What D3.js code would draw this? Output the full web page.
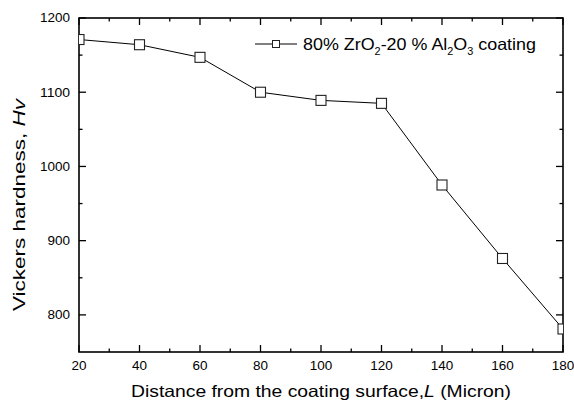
<!DOCTYPE html>
<html><head><meta charset="utf-8">
<script src="https://cdn.jsdelivr.net/npm/d3@7"></script>
<style>body{margin:0;background:#fff}svg{display:block;font-family:Arial,"Liberation Sans",sans-serif}</style>
</head><body><svg id="c" width="574" height="403"></svg>
<script>
const distances = [20, 40, 60, 80, 100, 120, 140, 160, 180];
const hardness = [1171, 1164, 1147, 1100, 1089, 1085, 975, 876, 781];
const xTicks = [20, 40, 60, 80, 100, 120, 140, 160, 180];
const yTicks = [800, 900, 1000, 1100, 1200];

const svg = d3.select("#c");
const L = 79, R = 563, T = 18, B = 352;
const x = d3.scaleLinear().domain([20, 180]).range([L, R]);
const y = d3.scaleLinear().domain([750, 1200]).range([B, T]);

const xMinor = d3.range(30, 180, 20);
const yMinor = [850, 950, 1050, 1150];

svg.append("clipPath").attr("id", "clip").append("rect")
  .attr("x", L).attr("y", T).attr("width", R - L).attr("height", B - T);

const axes = svg.append("g");
function tickLines(g, vals, len, side) {
  vals.forEach(v => {
    if (side === "bottom") g.append("line").attr("x1", x(v)).attr("x2", x(v)).attr("y1", B).attr("y2", B - len);
    if (side === "top") g.append("line").attr("x1", x(v)).attr("x2", x(v)).attr("y1", T).attr("y2", T + len);
    if (side === "left") g.append("line").attr("y1", y(v)).attr("y2", y(v)).attr("x1", L).attr("x2", L + len);
    if (side === "right") g.append("line").attr("y1", y(v)).attr("y2", y(v)).attr("x1", R).attr("x2", R - len);
  });
}
const tg = axes.append("g").attr("stroke", "#000").attr("stroke-width", 1.3);
tickLines(tg, xTicks, 7, "bottom"); tickLines(tg, xMinor, 3.5, "bottom");
tickLines(tg, xTicks, 7, "top"); tickLines(tg, xMinor, 3.5, "top");
tickLines(tg, yTicks, 7, "left"); tickLines(tg, yMinor, 3.5, "left");
tickLines(tg, yTicks, 7, "right"); tickLines(tg, yMinor, 3.5, "right");

axes.append("rect").attr("x", L).attr("y", T).attr("width", R - L).attr("height", B - T)
  .attr("fill", "none").attr("stroke", "#000").attr("stroke-width", 1.6);

// tick labels (glyphs slightly stretched horizontally as in reference)
svg.append("g").selectAll("text").data(xTicks).join("text")
  .attr("x", d => x(d)).attr("y", 370).attr("text-anchor", "middle")
  .attr("font-size", 12).attr("fill", "#000")
  .attr("textLength", d => String(d).length * 7.5).attr("lengthAdjust", "spacingAndGlyphs")
  .text(d => d);
svg.append("g").selectAll("text").data(yTicks).join("text")
  .attr("x", 70).attr("y", d => y(d) + 4.3).attr("text-anchor", "end")
  .attr("font-size", 12).attr("fill", "#000")
  .attr("textLength", d => String(d).length * 7.5).attr("lengthAdjust", "spacingAndGlyphs")
  .text(d => d);

// axis titles
const xt = svg.append("text").attr("x", (L + R) / 2).attr("y", 397).attr("text-anchor", "middle")
  .attr("font-size", 16.5).attr("fill", "#000")
  .attr("textLength", 380).attr("lengthAdjust", "spacingAndGlyphs");
xt.append("tspan").text("Distance from the coating surface,");
xt.append("tspan").attr("font-style", "italic").text("L");
xt.append("tspan").text(" (Micron)");

const yt = svg.append("text").attr("transform", `translate(25,205) rotate(-90)`)
  .attr("text-anchor", "middle").attr("font-size", 16.5).attr("fill", "#000")
  .attr("textLength", 212).attr("lengthAdjust", "spacingAndGlyphs");
yt.append("tspan").text("Vickers hardness, ");
yt.append("tspan").attr("font-style", "italic").text("Hv");

// data
const data = distances.map((d, i) => ({ x: d, y: hardness[i] }));
const plot = svg.append("g").attr("clip-path", "url(#clip)");
plot.append("path").datum(data)
  .attr("d", d3.line().x(d => x(d.x)).y(d => y(d.y)))
  .attr("fill", "none").attr("stroke", "#000").attr("stroke-width", 1);
const s = 10;
plot.selectAll("rect.m").data(data).join("rect").attr("class", "m")
  .attr("x", d => x(d.x) - s / 2).attr("y", d => y(d.y) - s / 2)
  .attr("width", s).attr("height", s)
  .attr("fill", "#fff").attr("stroke", "#222").attr("stroke-width", 1.1);

// legend
const lg = svg.append("g");
lg.append("line").attr("x1", 255).attr("x2", 297).attr("y1", 44).attr("y2", 44)
  .attr("stroke", "#000").attr("stroke-width", 1);
lg.append("rect").attr("x", 276 - 3.5).attr("y", 44 - 3.5).attr("width", 7).attr("height", 7)
  .attr("fill", "#fff").attr("stroke", "#222").attr("stroke-width", 1);
const lt = lg.append("text").attr("x", 303).attr("y", 50).attr("font-size", 16.5).attr("fill", "#000")
  .attr("textLength", 233).attr("lengthAdjust", "spacingAndGlyphs");
lt.append("tspan").text("80% ZrO");
lt.append("tspan").attr("font-size", 10).attr("dy", 5).text("2");
lt.append("tspan").attr("dy", -5).text("-20 % Al");
lt.append("tspan").attr("font-size", 10).attr("dy", 5).text("2");
lt.append("tspan").attr("dy", -5).text("O");
lt.append("tspan").attr("font-size", 10).attr("dy", 5).text("3");
lt.append("tspan").attr("dy", -5).text(" coating");
</script></body></html>
